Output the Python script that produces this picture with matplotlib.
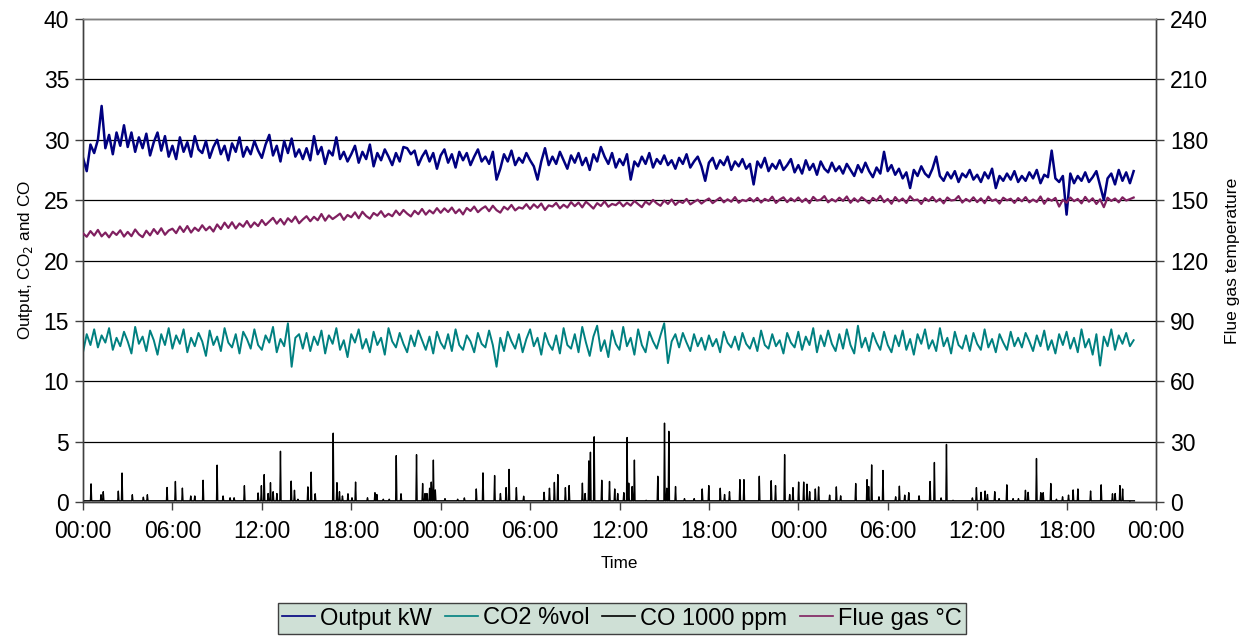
import numpy as np
import matplotlib
matplotlib.use("Agg")
import matplotlib.pyplot as plt

plt.rcParams['font.family'] = ['Liberation Sans', 'DejaVu Sans']

# ---------------- data ----------------
sample_step_h = 0.25  # 15-minute samples, hours from start

output_kw = [
    28.5, 27.4, 29.6, 28.9, 30.0, 32.8, 29.3, 30.4, 28.8, 30.6, 29.5, 31.2,
    29.4, 30.6, 29.0, 30.2, 29.3, 30.5, 28.7, 29.8, 30.6, 29.1, 30.3, 28.6,
    29.5, 28.4, 30.2, 29.0, 29.8, 28.6, 30.3, 29.2, 28.9, 29.9, 28.5, 29.4,
    30.0, 28.8, 29.5, 28.3, 29.7, 29.0, 30.2, 28.6, 29.4, 28.8, 29.9, 29.1,
    28.5, 29.6, 30.4, 28.7, 29.5, 28.2, 29.9, 28.9, 30.1, 28.6, 29.2, 28.4,
    29.3, 28.3, 30.3, 28.8, 29.4, 28.0, 29.1, 28.7, 30.2, 28.4, 29.0, 28.2,
    28.8, 29.5, 28.1, 29.0, 28.4, 29.6, 27.8, 28.9, 28.3, 29.2, 28.6, 27.9,
    28.9, 28.2, 29.4, 29.3, 28.8, 29.1, 27.9, 28.6, 29.1, 28.2, 28.9, 27.6,
    28.7, 29.2, 28.1, 28.8, 27.7, 29.0, 28.3, 28.9, 27.9, 28.6, 29.2, 28.2,
    28.6, 28.0, 29.0, 26.7, 27.6, 28.8, 28.2, 29.1, 27.9, 28.5, 28.1, 28.9,
    28.3, 27.8, 26.7, 28.2, 29.3, 27.9, 28.6, 28.0, 29.0, 28.3, 27.6, 28.7,
    28.1, 28.9, 27.9, 28.5, 27.5, 28.8, 28.2, 29.4, 28.6, 28.0, 28.9, 27.7,
    28.4, 27.9, 28.8, 26.7, 28.2, 27.8, 28.6, 28.0, 28.9, 27.7, 28.4, 28.0,
    28.7, 27.9, 28.3, 27.6, 28.5, 28.0, 28.8, 27.7, 28.2, 28.6, 27.8, 26.6,
    28.1, 28.5, 27.6, 28.3, 27.9, 28.6, 27.5, 28.2, 27.8, 28.4, 27.6, 28.0,
    26.3, 28.2, 27.7, 28.5, 27.4, 28.0, 27.6, 28.3, 27.5, 27.9, 28.4, 27.3,
    27.9, 27.2, 28.3, 27.5, 28.0, 27.1, 28.2, 27.6, 27.3, 28.1, 27.4, 27.8,
    27.2, 28.0, 27.5, 27.0, 27.9, 27.3, 28.1, 27.4, 26.9, 27.7, 27.2, 29.0,
    27.4, 27.9, 27.1, 27.6, 26.8, 27.3, 26.0, 27.5, 27.0, 27.8, 27.2, 26.9,
    27.6, 28.6, 27.0, 26.6, 27.3, 26.8, 27.4, 26.5, 27.2, 26.9, 27.5, 26.7,
    27.1, 26.5, 27.3, 26.8, 27.6, 26.0, 27.0, 26.6, 27.2, 26.7, 27.4, 26.5,
    27.0, 26.6, 27.3, 26.8, 27.5, 26.4, 27.1, 26.9, 29.1, 26.8, 26.5, 27.0,
    23.8, 27.2, 26.4, 27.0, 26.6, 27.3, 26.5, 26.9, 27.4, 26.2, 25.0, 26.8,
    27.2, 26.3, 27.5, 26.6, 27.3, 26.4, 27.4,
]

co2_vol = [
    12.4, 13.9, 13.0, 14.3, 12.8, 13.8, 13.2, 14.4, 12.6, 13.6, 12.9, 14.1,
    13.3, 12.3, 14.5, 13.1, 13.7, 12.5, 14.2, 13.4, 12.2, 13.9, 13.0, 14.4,
    12.7, 13.8, 13.1, 14.3, 12.4, 13.6, 12.9, 14.0, 13.3, 12.1, 14.2, 13.0,
    13.7, 12.5, 14.4, 13.2, 12.8, 13.9, 12.3, 14.1, 13.5, 12.7, 14.3, 13.0,
    12.6, 13.8, 13.2, 14.5, 12.4, 13.5, 12.9, 14.8, 11.2, 13.6, 13.9, 12.7,
    14.0, 12.5, 13.7, 13.0, 14.2, 12.3, 13.8, 13.1, 14.4, 12.6, 13.4, 12.0,
    13.9, 13.2, 14.3, 12.7, 13.5, 12.4, 14.1, 13.0, 13.6, 12.2, 14.4, 13.3,
    12.8, 14.0, 13.1, 12.4, 13.8, 12.9, 14.2, 13.4, 12.6, 13.7, 12.3, 14.1,
    13.2, 12.7, 13.9, 12.5, 14.3, 13.0, 12.6, 13.8, 13.3, 12.4, 14.0, 13.1,
    12.8, 14.2, 13.0, 11.2, 13.6, 12.5, 14.1, 13.3, 12.7, 13.9, 12.4, 13.5,
    14.3, 12.9, 13.6, 12.2, 14.0, 13.1, 12.6, 13.8, 12.3, 14.4, 13.0, 12.7,
    13.9, 12.4, 14.5, 13.2, 12.1, 13.7, 14.6, 12.5, 13.4, 12.0, 14.2, 13.1,
    12.6, 14.5, 12.9, 13.6, 12.2, 14.3, 13.0, 12.4, 14.1, 13.3, 12.7, 13.8,
    14.8, 11.5, 13.3, 13.9, 12.8, 14.0, 13.2, 12.5, 13.9, 12.9, 13.6, 12.6,
    13.8, 12.9, 13.5, 12.4, 14.1, 13.2, 12.8, 13.7, 12.6, 14.0, 13.1, 12.7,
    13.6, 12.5, 14.2, 13.0, 12.7, 13.9, 12.9, 13.4, 12.3, 14.0, 13.2, 12.8,
    14.1, 12.6, 13.7, 13.0, 14.4, 12.4, 13.8, 12.9, 14.2, 13.1, 12.5, 13.9,
    12.7, 14.3, 13.0, 12.3, 14.6, 12.8, 13.6, 12.5, 14.0, 13.2, 12.6, 14.1,
    13.0, 12.4, 13.8, 12.9, 14.2, 12.6, 13.5, 12.2, 13.9, 13.1, 14.3, 12.7,
    13.4, 12.5, 14.4, 12.9, 13.6, 12.3, 14.1, 13.0, 12.7, 13.8, 12.5, 14.0,
    13.1, 12.6, 14.3, 12.8, 13.5, 12.4, 13.9, 13.2, 12.6, 14.1, 12.9, 13.6,
    12.8, 14.0, 13.3, 12.5, 13.8, 12.9, 14.2, 12.6, 13.4, 12.3, 13.9, 13.0,
    14.1, 12.7, 13.6, 12.4, 14.3, 12.8, 13.5, 12.2, 13.9, 11.3, 13.7, 12.9,
    14.3, 12.6, 13.8, 13.1, 14.0, 12.9, 13.4,
]

flue_gas_c = [
    133.5, 131.8, 134.6, 132.4, 135.2, 132.0, 133.9, 131.5, 134.3, 132.7, 135.0, 131.9,
    134.2, 132.1, 135.4, 133.0, 131.6, 134.8, 132.5, 135.6, 133.2, 136.0, 132.8, 134.9,
    135.8, 133.6, 136.9, 134.2, 137.1, 133.9, 136.3, 134.7, 137.5, 135.0, 136.8, 134.4,
    137.9, 135.6, 138.8, 136.2, 139.0, 135.9, 138.4, 136.8, 139.6, 136.5, 138.9, 137.1,
    140.1, 137.6, 139.4, 141.2, 138.3, 140.6, 137.9, 141.0, 139.2, 141.8, 138.5, 140.4,
    142.0, 139.5, 141.7, 140.0, 143.1, 139.8, 142.4, 140.6, 141.9, 143.3, 140.2, 142.6,
    141.5, 143.9, 141.0, 144.2, 142.1, 140.8, 143.6, 142.3, 144.5, 141.7, 143.2, 142.0,
    144.8, 142.6, 145.1, 143.3, 141.9, 144.7, 143.0, 145.6, 142.8, 144.9, 143.4, 146.0,
    143.7, 145.9, 144.1, 146.3, 143.5, 145.4, 142.9, 146.1, 144.6, 146.8, 144.0, 145.7,
    146.9, 144.5, 147.2, 145.0, 143.8, 146.7, 145.3, 147.6, 144.9, 146.4, 145.8, 148.0,
    145.6, 147.9, 146.2, 148.3, 145.1, 147.4, 146.8, 148.6, 145.9, 147.7, 146.3, 149.0,
    147.0, 148.8, 146.4, 149.2, 147.6, 145.8, 148.5, 147.1, 149.4, 146.7, 148.1, 147.5,
    149.1, 146.9, 148.7, 147.3, 149.6, 148.0, 146.5, 149.3, 147.8, 150.1, 148.4, 147.2,
    149.8, 148.1, 150.3, 147.6, 149.4, 148.6, 150.6, 147.9, 149.1, 150.2, 148.3, 149.7,
    150.8, 148.5, 149.9, 151.2, 148.9, 150.4, 149.2, 151.5, 148.7, 150.1, 149.5, 151.0,
    149.3, 151.1, 148.8, 150.6, 149.6, 151.7, 148.6, 150.3, 151.4, 149.0, 150.9, 149.4,
    151.3, 149.1, 150.7, 148.5, 151.6, 149.8, 150.2, 152.0, 148.9, 150.5, 149.3, 151.2,
    149.6, 151.8, 148.7, 150.9, 149.2, 151.4, 150.0, 148.4, 151.1, 149.7, 152.1, 149.0,
    150.6, 148.2, 151.5, 149.4, 150.8, 148.6, 151.9, 149.9, 150.3, 148.1, 151.0, 149.5,
    151.6, 149.2, 150.7, 148.4, 151.3, 149.8, 150.1, 152.0, 148.8, 150.6, 149.3, 151.4,
    149.0, 150.9, 148.5, 151.7, 149.6, 150.4, 148.3, 151.2, 149.9, 150.7, 148.6, 151.0,
    149.4, 151.5, 148.9, 150.3, 149.1, 151.8, 148.2, 150.8, 149.7, 151.1, 146.8, 150.2,
    148.7, 151.3, 149.5, 150.6, 148.4, 151.6, 149.2, 150.9, 148.1, 150.4, 146.5, 151.2,
    149.6, 150.8, 148.9, 151.4, 149.8, 150.5, 151.3,
]

# CO (in 1000 ppm): spike times (hours from start) and spike heights
co_peak_hours = [
    0.54, 1.21, 1.36, 2.37, 2.62, 3.31, 4.05, 4.32, 5.64, 6.20, 6.67, 7.23, 7.50,
    8.06, 9.00, 9.40, 9.87, 10.14, 10.83, 11.75, 11.97, 12.16, 12.42, 12.58, 12.76,
    13.01, 13.25, 13.97, 14.19, 14.42, 15.09, 15.31, 15.58, 16.79, 17.04, 17.21,
    17.41, 17.78, 18.05, 18.29, 19.09, 19.59, 19.72, 20.15, 20.55, 21.02, 21.34,
    22.38, 22.79, 22.95, 23.08, 23.26, 23.37, 23.51, 23.64, 24.29, 25.14, 25.59,
    26.39, 26.84, 27.62, 28.01, 28.39, 28.59, 29.08, 29.57, 30.94, 31.30, 31.63,
    31.86, 32.37, 32.62, 33.51, 33.69, 33.94, 34.05, 34.30, 34.81, 35.33, 35.68,
    35.88, 36.29, 36.51, 36.62, 36.85, 37.00, 37.79, 38.57, 39.02, 39.17, 39.31,
    39.76, 40.36, 41.01, 41.55, 41.99, 42.76, 43.05, 43.38, 44.08, 44.35, 45.38,
    46.18, 46.47, 47.08, 47.42, 47.64, 48.02, 48.36, 48.58, 48.76, 49.14, 49.36,
    50.10, 50.55, 50.84, 51.85, 52.61, 52.72, 52.92, 53.41, 53.68, 54.53, 54.78,
    55.14, 55.41, 56.10, 56.84, 57.13, 57.58, 57.94, 58.38, 59.68, 59.95, 60.26,
    60.53, 60.69, 61.18, 61.47, 61.99, 62.41, 62.77, 63.24, 63.42, 63.98, 64.27,
    64.43, 64.94, 65.32, 65.73, 66.13, 66.44, 66.76, 67.61, 68.32, 69.08, 69.26,
    69.58, 69.76, 70.25,
]
co_peak_values = [
    1.5, 0.6, 0.85, 0.9, 2.4, 0.6, 0.4, 0.6, 1.2, 1.7, 1.15, 0.5, 0.5,
    1.8, 3.05, 0.5, 0.35, 0.35, 1.35, 0.75, 1.35, 2.27, 0.7, 1.6, 0.85,
    0.7, 4.2, 1.73, 0.97, 0.23, 1.25, 2.47, 0.68, 5.7, 1.6, 0.85,
    0.5, 0.68, 0.35, 1.65, 0.35, 0.77, 0.62, 0.23, 0.23, 3.84, 0.68,
    3.92, 1.53, 0.7, 0.7, 1.14, 1.65, 3.47, 1.0, 0.28, 0.23, 0.34,
    1.08, 2.41, 2.19, 0.7, 1.19, 2.7, 1.19, 0.48, 0.8, 1.14, 1.62,
    2.27, 1.19, 1.36, 1.56, 0.7, 3.4, 4.12, 5.4, 1.8, 1.7, 1.08,
    0.7, 0.77, 5.34, 1.56, 1.28, 3.47, 0.14, 2.13, 6.53, 1.14, 5.85,
    1.28, 0.28, 0.28, 1.08, 1.36, 1.14, 0.62, 0.85, 1.85, 1.85, 2.13,
    1.76, 1.36, 3.92, 0.62, 1.19, 1.65, 1.65, 1.48, 0.85, 1.08, 1.25,
    0.57, 1.25, 0.51, 1.53, 1.85, 1.28, 3.07, 0.43, 2.61, 0.43, 1.31,
    0.57, 0.77, 0.51, 1.7, 3.27, 0.34, 4.77, 0.14, 0.34, 1.19, 0.8,
    0.91, 0.62, 0.85, 0.28, 1.42, 0.28, 0.28, 0.97, 0.8, 3.6, 0.77,
    0.77, 1.53, 0.23, 0.43, 0.57, 1.0, 1.08, 0.91, 1.42, 0.68, 0.7,
    1.36, 1.08, 0.06,
]
co_baseline = 0.1
co_end_hour = 70.55

x_tick_hours = [0, 6, 12, 18, 24, 30, 36, 42, 48, 54, 60, 66, 72]
x_tick_labels = ["00:00", "06:00", "12:00", "18:00", "00:00", "06:00", "12:00",
                 "18:00", "00:00", "06:00", "12:00", "18:00", "00:00"]
left_ticks = [0, 5, 10, 15, 20, 25, 30, 35, 40]
right_ticks = [0, 30, 60, 90, 120, 150, 180, 210, 240]

series_labels = ["Output kW", "CO2 %vol", "CO 1000 ppm", "Flue gas °C"]

# ---------------- build the CO polyline from the spike readings ----------------
co_t = [0.0]
co_v = [co_baseline]
for h, v in zip(co_peak_hours, co_peak_values):
    co_t += [h - 0.04, h, h + 0.04]
    co_v += [co_baseline, v, co_baseline]
co_t.append(co_end_hour)
co_v.append(co_baseline)
order = np.argsort(co_t, kind="stable")
co_t = np.asarray(co_t)[order]
co_v = np.asarray(co_v)[order]

t_out = np.arange(len(output_kw)) * sample_step_h
t_co2 = np.arange(len(co2_vol)) * sample_step_h
t_flue = np.arange(len(flue_gas_c)) * sample_step_h

# ---------------- figure ----------------
W, H = 1249, 639
fig = plt.figure(figsize=(W / 100, H / 100), dpi=100)
ax = fig.add_axes([83 / W, 1 - 502 / H, (1156 - 83) / W, (502 - 19) / H])
ax2 = ax.twinx()

c_out = "#000080"
c_co2 = "#008080"
c_co = "#000000"
c_flue = "#802060"

for yv in left_ticks[1:-1]:
    ax.axhline(yv, color="black", lw=0.9, zorder=0)

l1, = ax.plot(t_out, output_kw, color=c_out, lw=1.8, label=series_labels[0], zorder=3)
l2, = ax.plot(t_co2, co2_vol, color=c_co2, lw=1.4, label=series_labels[1], zorder=3)
l3, = ax.plot(co_t, co_v, color=c_co, lw=1.0, label=series_labels[2], zorder=3)
l4, = ax2.plot(t_flue, flue_gas_c, color=c_flue, lw=1.6, label=series_labels[3], zorder=3)

ax.set_xlim(0, 72)
ax.set_ylim(0, 40)
ax2.set_ylim(0, 240)
ax.set_xticks(x_tick_hours)
ax.set_xticklabels(x_tick_labels)
ax.set_yticks(left_ticks)
ax2.set_yticks(right_ticks)

tick_fs = 16.5
ax.tick_params(axis="both", direction="out", length=6, width=1, color="#404040",
               labelsize=tick_fs, pad=4)
ax2.tick_params(axis="y", direction="out", length=6, width=1, color="#404040",
                labelsize=tick_fs, pad=4)
ax.tick_params(axis="x", pad=7)

for a in (ax, ax2):
    for s in a.spines.values():
        s.set_color("#404040")
        s.set_linewidth(1.0)
ax2.spines["top"].set_color("#808080")

ax.set_xlabel("Time", fontsize=12.3, labelpad=9)
ax.set_ylabel("Output, CO$_2$ and CO", fontsize=12.3, labelpad=6)
ax2.set_ylabel("Flue gas temperature", fontsize=12.6, labelpad=12)

leg = fig.legend(handles=[l1, l2, l3, l4], loc="center",
                 bbox_to_anchor=(622 / W, 1 - 618.5 / H), ncol=4,
                 fontsize=17, frameon=True, fancybox=False, shadow=False,
                 handlelength=1.4, handletextpad=0.2, columnspacing=0.55,
                 borderpad=0.2, borderaxespad=0)
for lh in leg.get_lines():
    lh.set_linewidth(1.2)
leg.get_frame().set_facecolor("#cfe0d6")
leg.get_frame().set_edgecolor("#404040")
leg.get_frame().set_linewidth(1.0)
leg.get_frame().set_alpha(1)

fig.savefig("out.png", dpi=100)
